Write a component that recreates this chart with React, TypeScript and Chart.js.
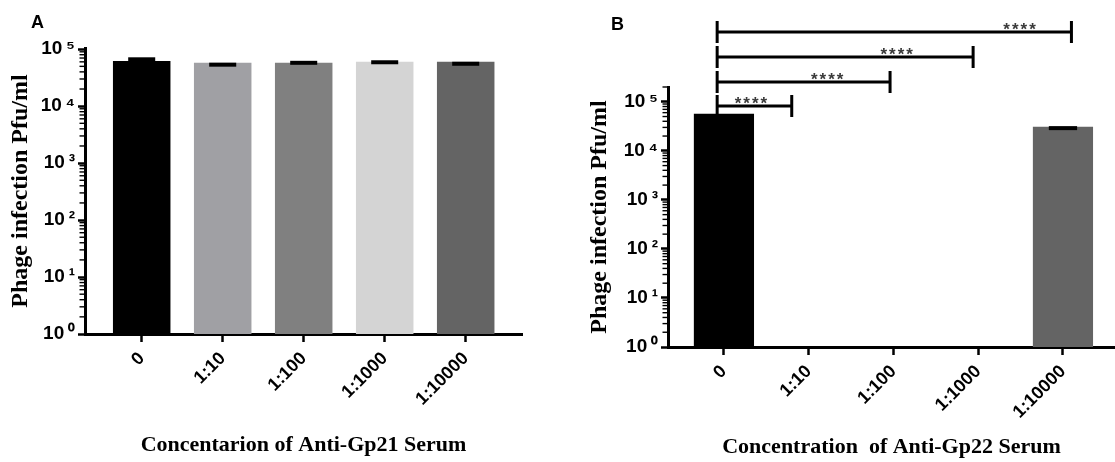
import React, { useEffect, useRef } from 'react';
import { Chart, registerables } from 'chart.js';

Chart.register(...registerables);

// ---------- data ----------
const categories = ['0', '1:10', '1:100', '1:1000', '1:10000'];

const gp21Values = [6.2e4, 5.8e4, 5.8e4, 6.0e4, 6.0e4];
const gp21ErrorCaps = [6.65e4, 5.35e4, 5.77e4, 5.9e4, 5.55e4];

const gp22Values: (number | null)[] = [5.7e4, null, null, null, 3.1e4];
const gp22ErrorCaps: (number | null)[] = [null, null, null, null, 2.9e4];

const barColors = ['#000000', '#a0a0a4', '#808080', '#d4d4d4', '#646464'];

const yTickValues = [1, 10, 100, 1000, 10000, 100000];
const yTickLabels = ['10\u2009\u2070', '10\u2009\u00b9', '10\u2009\u00b2', '10\u2009\u00b3', '10\u2009\u2074', '10\u2009\u2075'];

// significance brackets of panel B (x in category units, level in Pfu/ml units)
const bracketFrom = -0.08;
const bracketTo = [0.8, 1.96, 2.94, 4.1];
const bracketLevels = [8.2e4, 2.53e5, 8.2e5, 2.64e6];
const bracketStarX = [0.33, 1.23, 2.05, 3.5];
const bracketStars = ['****', '****', '****', '****'];

// ---------- helpers ----------
const sansBold = { family: '"Liberation Sans", Arial, Helvetica, sans-serif', weight: 'bold' as const };
const serifBold = { family: '"Liberation Serif", "Times New Roman", Times, serif', weight: 'bold' as const };

const minorTicksPlugin = {
  id: 'minorTicks',
  afterDraw(chart: any) {
    const y = chart.scales.y;
    const ctx = chart.ctx;
    const x0 = chart.chartArea.left - 1;
    ctx.save();
    ctx.strokeStyle = '#000';
    ctx.lineWidth = 1.4;
    for (let e = 0; e < 6; e++) {
      for (let k = 2; k <= 9; k++) {
        const v = k * Math.pow(10, e);
        if (v > y.max) continue;
        const py = y.getPixelForValue(v);
        ctx.beginPath();
        ctx.moveTo(x0 - 4.5, py);
        ctx.lineTo(x0, py);
        ctx.stroke();
      }
    }
    ctx.restore();
  },
};

const errorCapPlugin = {
  id: 'errorCaps',
  afterDatasetsDraw(chart: any, _args: any, opts: any) {
    const caps: (number | null)[] = opts.caps || [];
    const x = chart.scales.x;
    const y = chart.scales.y;
    const meta = chart.getDatasetMeta(0);
    const ctx = chart.ctx;
    ctx.save();
    ctx.strokeStyle = '#000';
    ctx.lineWidth = 4;
    caps.forEach((c, i) => {
      if (c == null) return;
      const bar = meta.data[i] as any;
      const w = bar && bar.width ? bar.width : 58;
      const half = w * 0.235;
      const px = x.getPixelForValue(i);
      const py = y.getPixelForValue(c);
      ctx.beginPath();
      ctx.moveTo(px - half, py);
      ctx.lineTo(px + half, py);
      ctx.stroke();
    });
    ctx.restore();
  },
};

const bracketPlugin = {
  id: 'brackets',
  afterDraw(chart: any, _args: any, opts: any) {
    if (!opts.enabled) return;
    const x = chart.scales.x;
    const y = chart.scales.y;
    const ctx = chart.ctx;
    const capHalf = 11;
    ctx.save();
    ctx.strokeStyle = '#000';
    ctx.lineWidth = 3;
    bracketTo.forEach((to, i) => {
      const x1 = x.getPixelForValue(bracketFrom);
      const x2 = x.getPixelForValue(to);
      const py = y.getPixelForValue(bracketLevels[i]);
      ctx.beginPath();
      ctx.moveTo(x1, py);
      ctx.lineTo(x2, py);
      ctx.moveTo(x1, py - capHalf);
      ctx.lineTo(x1, py + capHalf);
      ctx.moveTo(x2, py - capHalf);
      ctx.lineTo(x2, py + capHalf);
      ctx.stroke();
      ctx.fillStyle = '#3a3a3a';
      ctx.font = 'bold 17px "Liberation Sans", Arial, sans-serif';
      ctx.textAlign = 'center';
      ctx.textBaseline = 'alphabetic';
      try { (ctx as any).letterSpacing = '2px'; } catch (e) { /* ignore */ }
      ctx.fillText(bracketStars[i], x.getPixelForValue(bracketStarX[i]), py + 3);
      try { (ctx as any).letterSpacing = '0px'; } catch (e) { /* ignore */ }
    });
    ctx.restore();
  },
};

type PanelOpts = {
  values: (number | null)[];
  caps: (number | null)[];
  xTitle: string;
  yMax: number;
  xMin: number;
  xMax: number;
  yWidth: number;
  xHeight: number;
  padding: { top: number; right: number; left: number; bottom: number };
  yTitlePad: number;
  xTitlePad: number;
  brackets: boolean;
};

function makeConfig(p: PanelOpts): any {
  return {
    type: 'bar',
    data: {
      datasets: [
        {
          data: p.values.map((v, i) => ({ x: i, y: v })),
          backgroundColor: barColors,
          borderWidth: 0,
          barPercentage: 0.71,
          categoryPercentage: 1,
        },
      ],
    },
    plugins: [minorTicksPlugin, errorCapPlugin, bracketPlugin],
    options: {
      responsive: false,
      animation: false,
      devicePixelRatio: 1,
      layout: { padding: p.padding },
      plugins: {
        legend: { display: false },
        tooltip: { enabled: false },
        title: { display: false },
        errorCaps: { caps: p.caps },
        brackets: { enabled: p.brackets },
      },
      scales: {
        x: {
          type: 'linear',
          offset: false,
          min: p.xMin,
          max: p.xMax,
          afterBuildTicks: (s: any) => {
            s.ticks = categories.map((_, i) => ({ value: i }));
          },
          afterFit: (s: any) => {
            s.height = p.xHeight;
          },
          ticks: {
            autoSkip: false,
            minRotation: 45,
            maxRotation: 45,
            padding: 6,
            color: '#000',
            font: { ...sansBold, size: 18 },
            callback: (v: number) => categories[Math.round(v)] ?? '',
          },
          grid: {
            display: true,
            offset: false,
            drawOnChartArea: false,
            drawTicks: true,
            tickLength: 8,
            tickWidth: 2.5,
            tickColor: '#000',
          },
          border: { display: true, color: '#000', width: 3 },
          title: {
            display: true,
            text: p.xTitle,
            color: '#000',
            font: { ...serifBold, size: 22 },
            padding: { top: 0, bottom: p.xTitlePad },
          },
        },
        y: {
          type: 'logarithmic',
          min: 1,
          max: p.yMax,
          afterBuildTicks: (s: any) => {
            s.ticks = yTickValues.map((v) => ({ value: v, major: true }));
          },
          afterFit: (s: any) => {
            s.width = p.yWidth;
          },
          ticks: {
            autoSkip: false,
            padding: 3,
            color: '#000',
            font: { ...sansBold, size: 19 },
            callback: (v: number) => yTickLabels[Math.round(Math.log10(v))] ?? '',
          },
          grid: {
            display: true,
            drawOnChartArea: false,
            drawTicks: true,
            tickLength: 7,
            tickWidth: 2.5,
            tickColor: '#000',
          },
          border: { display: true, color: '#000', width: 3 },
          title: {
            display: true,
            text: 'Phage infection Pfu/ml',
            color: '#000',
            font: { ...serifBold, size: 24 },
            padding: { top: p.yTitlePad, bottom: 0 },
          },
        },
      },
    },
  };
}

export default function App() {
  const refA = useRef<HTMLCanvasElement | null>(null);
  const refB = useRef<HTMLCanvasElement | null>(null);

  useEffect(() => {
    const a = new Chart(
      refA.current as HTMLCanvasElement,
      makeConfig({
        values: gp21Values,
        caps: gp21ErrorCaps,
        xTitle: 'Concentarion of Anti-Gp21 Serum',
        yMax: 1.05e5,
        xMin: -0.7,
        xMax: 4.695,
        yWidth: 85,
        xHeight: 128,
        padding: { top: 48, right: 35, left: 0, bottom: 0 },
        yTitlePad: 6,
        xTitlePad: 3,
        brackets: false,
      })
    );
    const b = new Chart(
      refB.current as HTMLCanvasElement,
      makeConfig({
        values: gp22Values,
        caps: gp22ErrorCaps,
        xTitle: 'Concentration  of Anti-Gp22 Serum',
        yMax: 2e5,
        xMin: -0.66,
        xMax: 4.614,
        yWidth: 111,
        xHeight: 115,
        padding: { top: 87, right: 0, left: 0, bottom: 0 },
        yTitlePad: 28,
        xTitlePad: 1,
        brackets: true,
      })
    );
    return () => {
      a.destroy();
      b.destroy();
    };
  }, []);

  const panelLabel: React.CSSProperties = {
    position: 'absolute',
    fontFamily: '"Liberation Sans", Arial, Helvetica, sans-serif',
    fontWeight: 'bold',
    fontSize: 18,
    lineHeight: 1,
    color: '#000',
  };

  return (
    <div style={{ position: 'fixed', left: 0, top: 0, width: 1115, height: 462, background: '#fff', overflow: 'hidden' }}>
      <canvas
        ref={refA}
        width={557}
        height={462}
        style={{ position: 'absolute', left: 0, top: 0, width: 557, height: 462 }}
      />
      <canvas
        ref={refB}
        width={558}
        height={462}
        style={{ position: 'absolute', left: 557, top: 0, width: 558, height: 462 }}
      />
      <div style={{ ...panelLabel, left: 31, top: 13 }}>A</div>
      <div style={{ ...panelLabel, left: 611, top: 15 }}>B</div>
    </div>
  );
}
